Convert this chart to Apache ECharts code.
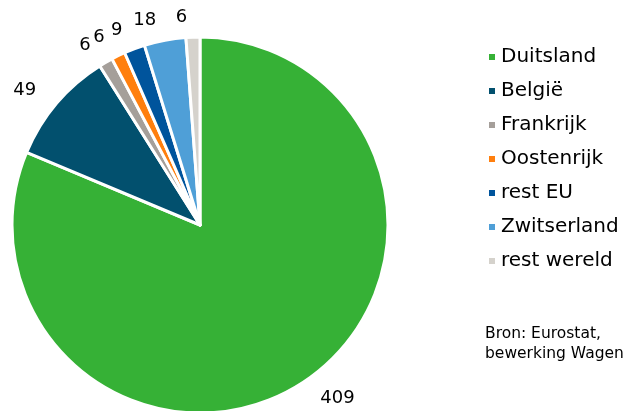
<!DOCTYPE html>
<html>
<head>
<meta charset="utf-8">
<script src="https://cdn.jsdelivr.net/npm/echarts@6/dist/echarts.min.js"></script>
<style>
  html, body { margin: 0; padding: 0; background: #fff; }
  #chart { width: 629px; height: 411px; }
</style>
</head>
<body>
<div id="chart"></div>
<script>
const countries = ['Duitsland', 'België', 'Frankrijk', 'Oostenrijk', 'rest EU', 'Zwitserland', 'rest wereld'];
const values = [409, 49, 6, 6, 9, 18, 6];
const colors = ['#36b136', '#02506e', '#a59f9a', '#ff7f0e', '#00549c', '#4f9fd7', '#d5d2cc'];
const sourceNote = 'Bron: Eurostat,\nbewerking Wagen';

const chart = echarts.init(document.getElementById('chart'));

const option = {
  animation: false,
  textStyle: { fontFamily: 'DejaVu Sans', color: '#000' },
  legend: {
    orient: 'vertical',
    left: 482,
    top: 42,
    icon: 'rect',
    itemWidth: 8,
    itemHeight: 8,
    itemGap: 14,
    textStyle: { fontSize: 20, color: '#000', fontFamily: 'DejaVu Sans' },
    data: countries
  },
  graphic: [
    {
      type: 'text',
      left: 485,
      top: 324,
      style: {
        text: sourceNote,
        font: '15.5px "DejaVu Sans"',
        lineHeight: 20,
        fill: '#000'
      }
    }
  ],
  series: [
    {
      type: 'pie',
      center: [200, 225],
      radius: 188,
      startAngle: 90,
      clockwise: true,
      avoidLabelOverlap: false,
      itemStyle: { borderColor: '#fff', borderWidth: 3 },
      label: {
        show: true,
        position: 'outside',
        formatter: '{c}',
        fontSize: 18,
        color: '#000',
        fontFamily: 'DejaVu Sans'
      },
      labelLine: { show: false, length: 20, length2: 0 },
      data: countries.map((name, i) => ({
        name,
        value: values[i],
        itemStyle: { color: colors[i] }
      }))
    }
  ]
};

chart.setOption(option);
</script>
</body>
</html>
